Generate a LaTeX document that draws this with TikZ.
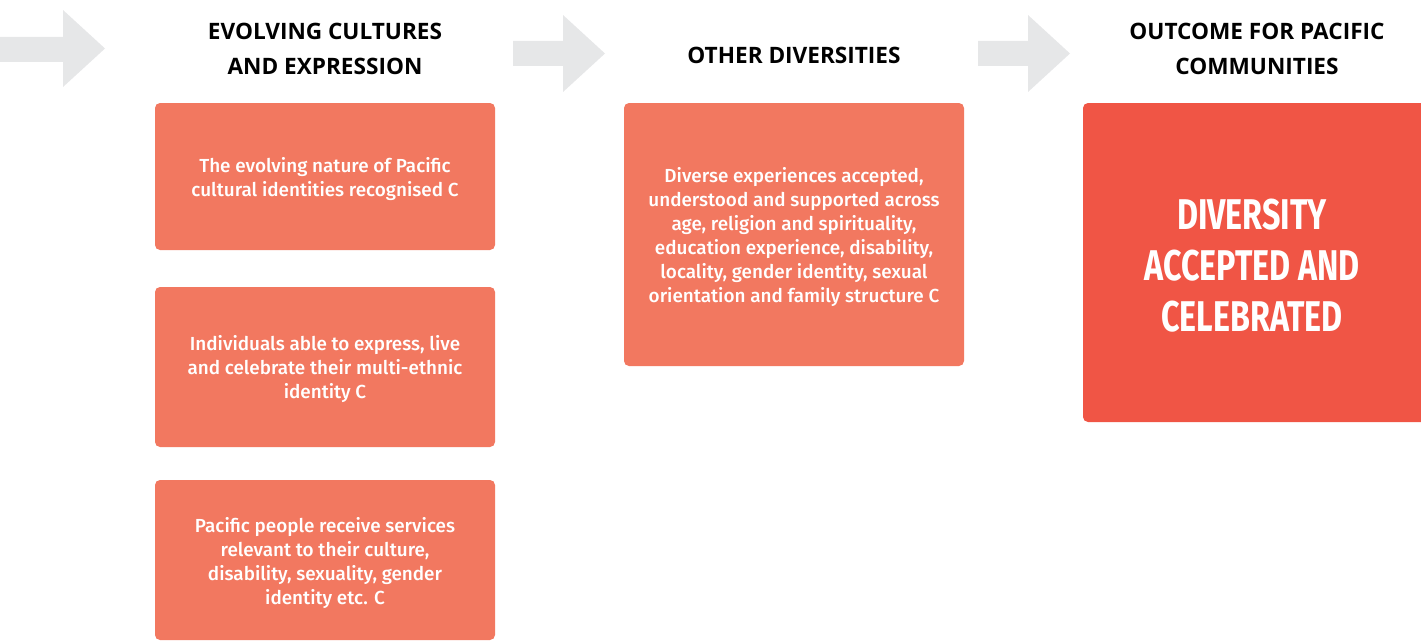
\documentclass[tikz,border=0pt]{standalone}
\usepackage{fontspec}
\setmainfont{Fira Sans}[UprightFont=* Medium]
\newfontfamily\headfont{Open Sans}
\newfontfamily\bigfont[FakeStretch=0.75]{Fira Sans}
\definecolor{boxsalmon}{HTML}{F27860}
\definecolor{boxred}{HTML}{F05545}
\definecolor{arrowgrey}{HTML}{E6E7E8}
\begin{document}
\begin{tikzpicture}[x=1pt,y=-1pt,
  card/.style={fill=boxsalmon, rounded corners=5pt, text=white, align=center,
    font=\fontsize{18.9}{24}\selectfont, inner sep=0pt},
  bigcard/.style={fill=boxred, rounded corners=5pt, text=white, align=center,
    font=\bigfont\bfseries\fontsize{43}{51}\selectfont, inner sep=0pt},
  heading/.style={align=center, font=\headfont\bfseries\fontsize{22.6}{35}\selectfont, text=black},
  flowarrow/.style={fill=arrowgrey, draw=none}]
\useasboundingbox (0,0) rectangle (1421,642);
% grey flow arrows
\fill[flowarrow] (-5,37) -- (63,37) -- (63,10) -- (105,48.5) -- (63,87) -- (63,62) -- (-5,62) -- cycle;
\fill[flowarrow] (513,41) -- (563,41) -- (563,15) -- (605,53.5) -- (563,92) -- (563,66) -- (513,66) -- cycle;
\fill[flowarrow] (978,41) -- (1028,41) -- (1028,15) -- (1070,53.5) -- (1028,92) -- (1028,66) -- (978,66) -- cycle;
% headings
\node[heading] (h1) at (325,48.5) {EVOLVING CULTURES\\AND EXPRESSION};
\node[heading] (h2) at (794,55) {OTHER DIVERSITIES};
\node[heading] (h3) at (1257,48.5) {OUTCOME FOR PACIFIC\\COMMUNITIES};
% cards
\fill[boxsalmon, rounded corners=5pt] (155,103) rectangle (495,250);
\node[card, fill=none] (c1) at (325,179) {The evolving nature of Pacific\\cultural identities recognised C};
\fill[boxsalmon, rounded corners=5pt] (155,287) rectangle (495,447);
\node[card, fill=none] (c2) at (325,369.5) {Individuals able to express, live\\and celebrate their multi-ethnic\\identity C};
\fill[boxsalmon, rounded corners=5pt] (155,480) rectangle (495,640);
\node[card, fill=none] (c3) at (325,563) {Pacific people receive services\\relevant to their culture,\\disability, sexuality, gender\\identity etc. C};
\fill[boxsalmon, rounded corners=5pt] (624,103) rectangle (964,366);
\node[card, fill=none] (m1) at (794,237.5) {Diverse experiences accepted,\\understood and supported across\\age, religion and spirituality,\\education experience, disability,\\locality, gender identity, sexual\\orientation and family structure C};
\fill[boxred, rounded corners=5pt] (1083,103) rectangle (1440,422);
\node[bigcard, fill=none] (o1) at (1252,266) {DIVERSITY\\ACCEPTED AND\\CELEBRATED};
\end{tikzpicture}
\end{document}
